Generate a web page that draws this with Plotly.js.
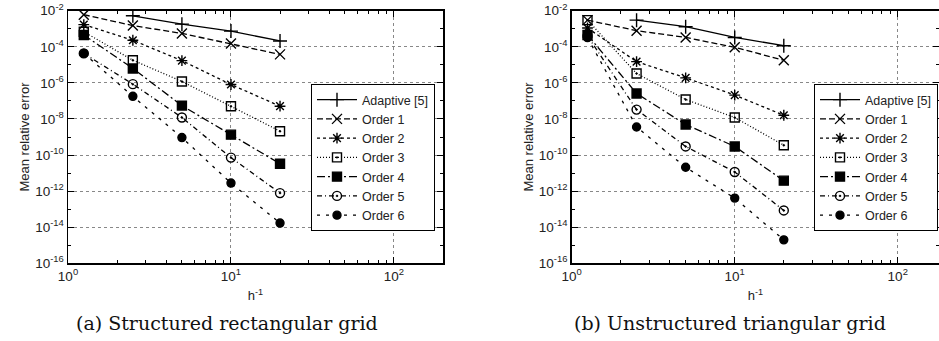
<!DOCTYPE html>
<html>
<head>
<meta charset="utf-8">
<script src="https://cdn.plot.ly/plotly-3.0.1.min.js"></script>
<style>html,body{margin:0;padding:0;background:#fff;}#chart{width:939px;height:341px;}</style>
</head>
<body>
<div id="chart"></div>
<script>
// ---- data ----
const hInv = [1.25, 2.5, 5, 10, 20];
const hInvAdaptive = [2.5, 5, 10, 20];
const seriesNames = ["Adaptive [5]", "Order 1", "Order 2", "Order 3", "Order 4", "Order 5", "Order 6"];

// (a) structured rectangular grid
const adaptiveA = [5.2e-3, 1.8e-3, 7.4e-4, 2.1e-4];
const order1A = [6.0e-3, 1.5e-3, 5.5e-4, 1.5e-4, 3.8e-5];
const order2A = [1.7e-3, 2.3e-4, 1.7e-5, 8.1e-7, 5.1e-8];
const order3A = [6.8e-4, 1.8e-5, 1.2e-6, 5.1e-8, 2.1e-9];
const order4A = [4.5e-4, 6.3e-6, 5.5e-8, 1.35e-9, 3.3e-11];
const order5A = [4.3e-5, 8.5e-7, 1.2e-8, 7.2e-11, 7.8e-13];
const order6A = [4.3e-5, 1.8e-7, 9.3e-10, 2.8e-12, 1.7e-14];

// (b) unstructured triangular grid
const adaptiveB = [3.0e-3, 1.3e-3, 3.3e-4, 1.15e-4];
const order1B = [3.0e-3, 7.8e-4, 3.3e-4, 9.3e-5, 1.8e-5];
const order2B = [1.1e-3, 1.5e-5, 1.9e-6, 2.1e-7, 1.6e-8];
const order3B = [3.0e-3, 3.3e-6, 1.2e-7, 1.2e-8, 3.5e-10];
const order4B = [4.5e-4, 2.6e-7, 4.9e-9, 3.0e-10, 3.8e-12];
const order5B = [4.0e-4, 3.3e-8, 3.0e-10, 1.15e-11, 8.5e-14];
const order6B = [3.2e-4, 3.6e-9, 2.1e-11, 4.1e-13, 2.0e-15];

// ---- tick labels ----
const xTickVals = [1, 10, 100];
const xTickText = ["10<sup>0</sup>", "10<sup>1</sup>", "10<sup>2</sup>"];
const xMinorVals = [2, 3, 4, 5, 6, 7, 8, 9, 20, 30, 40, 50, 60, 70, 80, 90, 200];
const yTickVals = [1e-2, 1e-4, 1e-6, 1e-8, 1e-10, 1e-12, 1e-14, 1e-16];
const yTickText = ["10<sup>-2</sup>", "10<sup>-4</sup>", "10<sup>-6</sup>", "10<sup>-8</sup>",
                   "10<sup>-10</sup>", "10<sup>-12</sup>", "10<sup>-14</sup>", "10<sup>-16</sup>"];
const yMinorVals = [1e-3, 1e-5, 1e-7, 1e-9, 1e-11, 1e-13, 1e-15];

const xTitle = "h<sup>-1</sup>";
const yTitle = "Mean relative error";
const captions = ["(a) Structured rectangular grid", "(b) Unstructured triangular grid"];

// ---- styles ----
const styles = [
  {dash: "solid", symbol: "cross-thin-open", size: 10},
  {dash: "6px,3px", symbol: "x-thin-open", size: 10},
  {dash: "3px,3px", symbol: "asterisk-open", size: 9},
  {dash: "1px,2px", symbol: "square-open-dot", size: 9},
  {dash: "8px,3px,2px,3px", symbol: "square", size: 9},
  {dash: "5px,3px,1px,3px", symbol: "circle-open-dot", size: 9},
  {dash: "3px,6px", symbol: "circle", size: 8}
];

function makeTraces(ySets, xa, ya, legendId) {
  return ySets.map((ys, i) => ({
    x: i === 0 ? hInvAdaptive : hInv,
    y: ys,
    name: seriesNames[i],
    xaxis: xa, yaxis: ya,
    legend: legendId,
    type: "scatter",
    mode: "lines+markers",
    line: {color: "#000", width: 1.3, dash: styles[i].dash},
    marker: {symbol: styles[i].symbol, size: styles[i].size, color: "#000",
             line: {color: "#000", width: 1.4}}
  }));
}

const traces = [
  ...makeTraces([adaptiveA, order1A, order2A, order3A, order4A, order5A, order6A], "x", "y", "legend"),
  ...makeTraces([adaptiveB, order1B, order2B, order3B, order4B, order5B, order6B], "x2", "y2", "legend2")
];

const W = 939, H = 341;
const plotTopPx = 10.7, plotBottomPx = 263.3;
const yDom = [1 - plotBottomPx / H, 1 - plotTopPx / H];
const sans = "Liberation Sans, Arial, sans-serif";

function xAxis(domain, range) {
  return {
    type: "log", domain: domain, range: range,
    tickmode: "array", tickvals: xTickVals, ticktext: xTickText,
    ticks: "inside", ticklen: 6, tickwidth: 1, tickcolor: "#000",
    minor: {tickmode: "array", tickvals: xMinorVals, ticks: "inside", ticklen: 3, tickcolor: "#000", showgrid: false},
    showline: true, linecolor: "#000", linewidth: 1.5, mirror: "allticks",
    showgrid: true, gridcolor: "#888", griddash: "dot", gridwidth: 1,
    zeroline: false,
    tickfont: {family: sans, size: 13.5, color: "#222"},
    title: {text: xTitle, font: {family: sans, size: 13, color: "#222"}, standoff: 8}
  };
}
function yAxis(domain, anchor) {
  return {
    type: "log", domain: domain, range: [-16, -2], anchor: anchor,
    tickmode: "array", tickvals: yTickVals, ticktext: yTickText,
    ticks: "inside", ticklen: 6, tickwidth: 1, tickcolor: "#000",
    minor: {tickmode: "array", tickvals: yMinorVals, ticks: "inside", ticklen: 3, tickcolor: "#000", showgrid: false},
    showline: true, linecolor: "#000", linewidth: 1.5, mirror: "allticks",
    showgrid: true, gridcolor: "#888", griddash: "dot", gridwidth: 1,
    zeroline: false,
    tickfont: {family: sans, size: 13.5, color: "#222"},
    title: {text: yTitle, font: {family: sans, size: 13, color: "#222"}, standoff: 2}
  };
}

const legendBase = {
  bgcolor: "#fff", bordercolor: "#000", borderwidth: 1,
  font: {family: sans, size: 12.5, color: "#222"},
  yanchor: "top", xanchor: "right", itemwidth: 40, tracegroupgap: 0
};

const captionFont = {family: "DejaVu Serif, Liberation Serif, serif", size: 19, color: "#111"};

const layout = {
  width: W, height: H,
  margin: {l: 0, r: 0, t: 0, b: 0},
  paper_bgcolor: "#fff", plot_bgcolor: "#fff",
  showlegend: true,
  xaxis: Object.assign(xAxis([68 / W, 443 / W], [0, Math.log10(200)]), {anchor: "y"}),
  yaxis: yAxis(yDom, "x"),
  xaxis2: Object.assign(xAxis([571.7 / W, 1], [0, 2.253]), {anchor: "y2"}),
  yaxis2: yAxis(yDom, "x2"),
  legend: Object.assign({}, legendBase, {x: 435 / W, y: 1 - 84 / H}),
  legend2: Object.assign({}, legendBase, {x: 938 / W, y: 1 - 84 / H}),
  annotations: [
    {text: captions[0], xref: "paper", yref: "paper", x: 227 / W, y: 1 - 323 / H,
     xanchor: "center", yanchor: "middle", showarrow: false, font: captionFont},
    {text: captions[1], xref: "paper", yref: "paper", x: 730 / W, y: 1 - 323 / H,
     xanchor: "center", yanchor: "middle", showarrow: false, font: captionFont}
  ]
};

Plotly.newPlot("chart", traces, layout, {staticPlot: true, displayModeBar: false});
</script>
</body>
</html>
